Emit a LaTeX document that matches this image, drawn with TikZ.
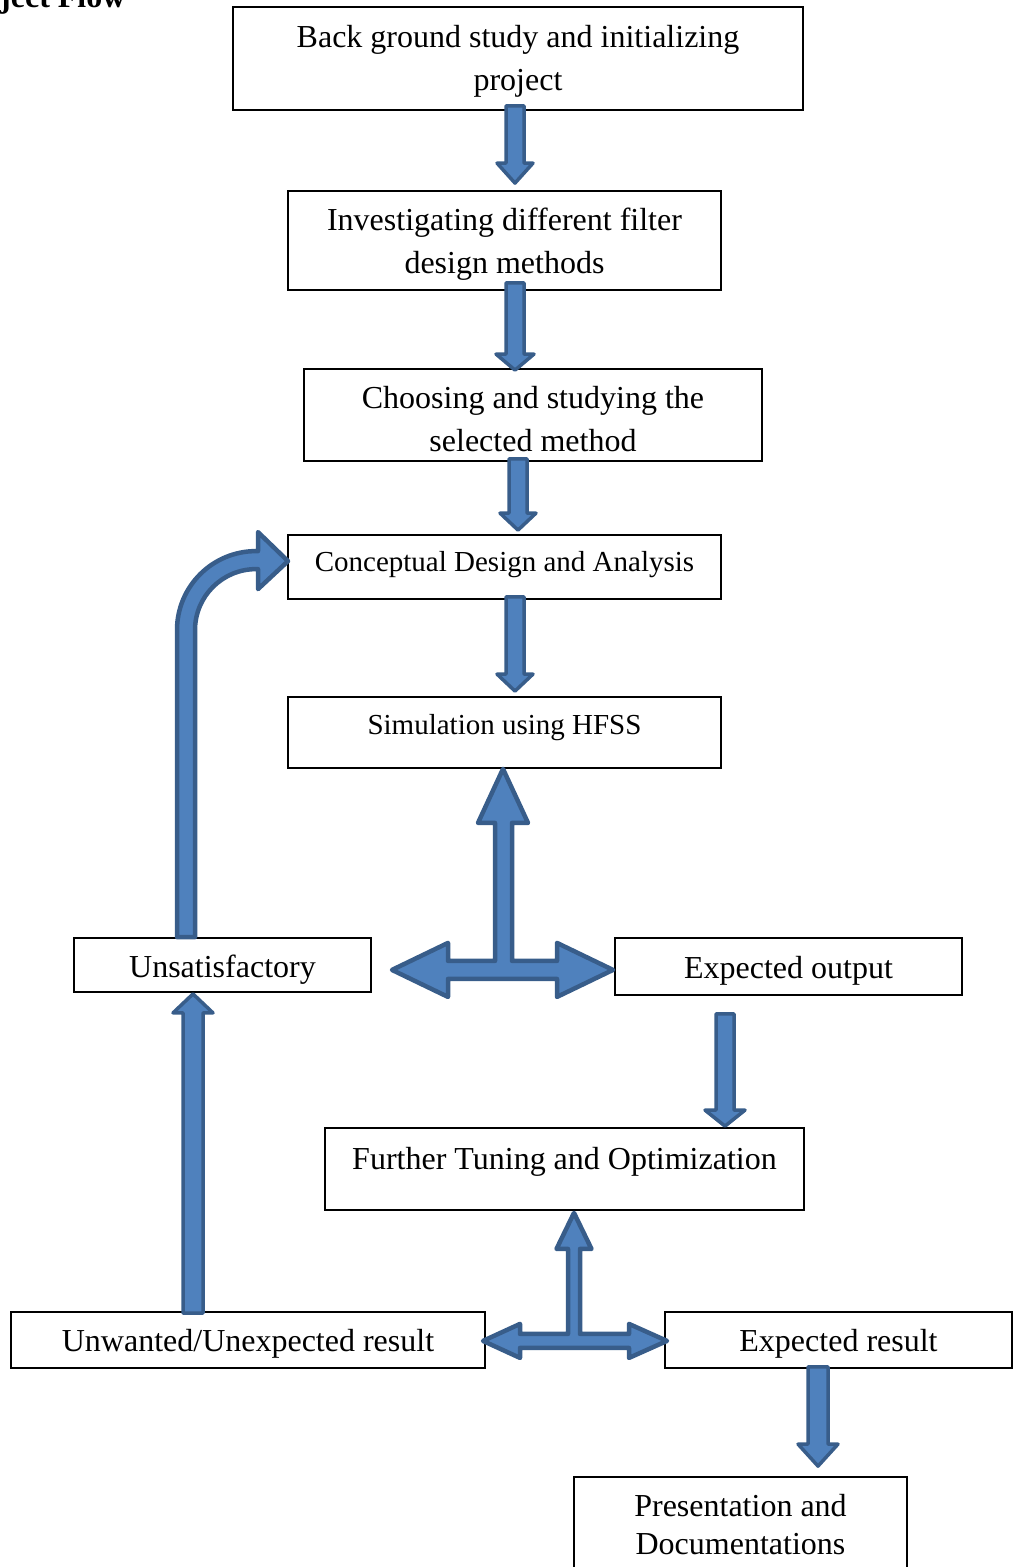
\documentclass[tikz,border=0pt]{standalone}
\usepackage{fontspec}
\setmainfont{Liberation Serif}
\usetikzlibrary{calc}
\definecolor{afill}{HTML}{4F81BD}
\definecolor{aline}{HTML}{385D8A}
\tikzset{
  box/.style={draw=black, line width=1.8pt, align=center, inner sep=0pt,
    font=\fontsize{32}{43}\selectfont},
  smallfont/.style={font=\fontsize{29}{39}\selectfont},
  blockarrow/.style={fill=afill, draw=aline, line width=3.5pt, line join=round},
  bigarrow/.style={blockarrow, line width=4.5pt},
}
% #1 start, #2 tip, #3 half shaft, #4 half head, #5 head length (negative for upward)
\newcommand\vblock[5]{%
  \filldraw[blockarrow] let \p1=(#1), \p2=(#2) in
    (\x2-#3,\y1) -- (\x2+#3,\y1) -- (\x2+#3,\y2+#5) -- (\x2+#4,\y2+#5) --
    (\x2,\y2) -- (\x2-#4,\y2+#5) -- (\x2-#3,\y2+#5) -- cycle;}
\begin{document}
\begin{tikzpicture}[x=1pt,y=-1pt]
\useasboundingbox (0,0) rectangle (1013,1567);

% heading (clipped at the top edge)
\node[anchor=base west, inner sep=0pt, font=\fontsize{32}{38}\selectfont\bfseries] (head) at (0,7) {ject Flow};

% boxes
\node[box, minimum width=570pt, minimum height=103pt, text height=71pt, text depth=7pt] (b1) at (518,58.5) {Back ground study and initializing\\project};
\node[box, minimum width=433pt, minimum height=99pt, text height=73pt, text depth=7pt] (b2) at (504.5,240.5) {Investigating different filter\\design methods};
\node[box, minimum width=458pt, minimum height=92pt, text height=80pt, text depth=7pt] (b3) at (533,415) {Choosing and studying the\\selected method};
\node[box, smallfont, minimum width=433pt, minimum height=64pt, text height=20pt, text depth=11pt] (b4) at (504.5,567) {Conceptual Design and Analysis};
\node[box, smallfont, minimum width=433pt, minimum height=71pt, text height=20pt, text depth=16pt] (b5) at (504.5,732.5) {Simulation using HFSS};
\node[box, minimum width=297pt, minimum height=54pt, text height=32pt, text depth=7pt] (b6) at (222.5,965) {Unsatisfactory};
\node[box, minimum width=347pt, minimum height=57pt, text height=30pt, text depth=7pt] (b7) at (788.5,966.5) {Expected output};
\node[box, minimum width=479pt, minimum height=82pt, text height=28pt, text depth=28pt] (b8) at (564.5,1169) {Further Tuning and Optimization};
\node[box, minimum width=474pt, minimum height=56pt, text height=30pt, text depth=7pt] (b9) at (248,1340) {Unwanted/Unexpected result};
\node[box, minimum width=347pt, minimum height=56pt, text height=30pt, text depth=7pt] (b10) at (838.5,1340) {Expected result};
\node[box, font=\fontsize{32}{38}\selectfont, minimum width=333pt, minimum height=100pt, text height=60pt, text depth=6pt] (b11) at (740.5,1527) {Presentation and\\Documentations};

% arrow end points
\coordinate (a1s) at ($(b1.south)+(-3,-5)$);
\coordinate (a1e) at ($(b2.north)+(10.5,-7)$);
\coordinate (a2s) at ($(b2.south)+(10.5,-8)$);
\coordinate (a2e) at ($(b3.north)+(-18,2)$);
\coordinate (a3s) at ($(b3.south)+(-15,-3)$);
\coordinate (a3e) at ($(b4.north)+(13.5,-4)$);
\coordinate (a4s) at ($(b4.south)+(10.5,-3)$);
\coordinate (a4e) at ($(b5.north)+(10.5,-5)$);
\coordinate (a5s) at ($(b7.south)+(-63.5,18)$);
\coordinate (a5e) at ($(b8.north)+(160.5,-1)$);
\coordinate (a6s) at ($(b10.south)+(-20.5,-2)$);
\coordinate (a6e) at ($(b11.north)+(77.5,-10)$);
\coordinate (a7s) at ($(b9.north)+(-55,2)$);
\coordinate (a7e) at ($(b6.south)+(-29.5,1)$);
\coordinate (cs) at ($(b6.north)+(-45.5,0)$);
\coordinate (t1) at ($(b5.south)+(-1.5,0)$);
\coordinate (t2) at ($(b8.south)+(9.5,2)$);

% straight block arrows
\vblock{a1s}{a1e}{9}{18}{20}
\vblock{a2s}{a2e}{9}{19}{16}
\vblock{a3s}{a3e}{9}{18}{17}
\vblock{a4s}{a4e}{9}{18}{17}
\vblock{a5s}{a5e}{9}{20}{16}
\vblock{a6s}{a6e}{10}{20}{22}
\vblock{a7s}{a7e}{10}{20}{-19}

% curved arrow: Unsatisfactory -> Conceptual Design
\filldraw[bigarrow] (cs) -- ++(0,-307)
  arc[start angle=180, end angle=270, radius=79] -- ++(2,0) -- ++(0,-19)
  -- ++(30,29) -- ++(-30,28) -- ++(0,-20) -- ++(-2,0)
  arc[start angle=270, end angle=180, radius=61] -- ++(0,307) -- cycle;

% T-arrow below Simulation
\filldraw[bigarrow] (t1) -- ++(25,54) -- ++(-16,0) -- ++(0,138) -- ++(45,0)
  -- ++(0,-18) -- ++(56,27) -- ++(-56,27) -- ++(0,-18) -- ++(-109,0)
  -- ++(0,18) -- ++(-56,-27) -- ++(56,-27) -- ++(0,18) -- ++(47,0)
  -- ++(0,-138) -- ++(-17,0) -- cycle;

% T-arrow below Further Tuning
\filldraw[bigarrow] (t2) -- ++(17.5,36) -- ++(-11.5,0) -- ++(0,85) -- ++(49,0)
  -- ++(0,-10) -- ++(38,17) -- ++(-38,17) -- ++(0,-10) -- ++(-109,0)
  -- ++(0,10) -- ++(-37,-17) -- ++(37,-17) -- ++(0,10) -- ++(48,0)
  -- ++(0,-85) -- ++(-11.5,0) -- cycle;
\end{tikzpicture}
\end{document}
